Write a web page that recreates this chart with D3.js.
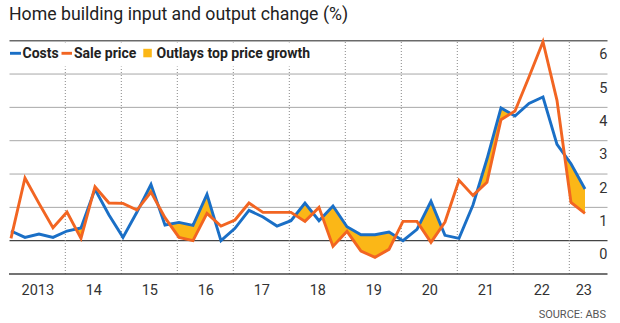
<!DOCTYPE html>
<html>
<head>
<meta charset="utf-8">
<script src="https://cdnjs.cloudflare.com/ajax/libs/d3/7.8.5/d3.min.js"></script>
<style>
  body { margin: 0; background: #fff; }
  svg text { font-family: Roboto, "Open Sans", sans-serif; }
</style>
</head>
<body>
<svg id="chart"></svg>
<script>
// quarterly % change, Q1 2013 .. Q2 2023
var costs = [0.29, 0.10, 0.20, 0.10, 0.29, 0.38, 1.54, 0.77, 0.10, 0.86,
             1.69, 0.47, 0.55, 0.46, 1.39, 0.00, 0.37, 0.91, 0.71, 0.44,
             0.60, 1.13, 0.60, 1.04, 0.42, 0.18, 0.18, 0.26, 0.00, 0.34,
             1.18, 0.16, 0.07, 1.07, 2.45, 3.98, 3.74, 4.12, 4.31, 2.89,
             2.31, 1.55];
var salePrice = [0.07, 1.88, 1.12, 0.39, 0.86, 0.07, 1.62, 1.13, 1.12, 0.92,
                 1.46, 0.69, 0.10, 0.00, 0.82, 0.44, 0.62, 1.13, 0.85, 0.85,
                 0.85, 0.58, 1.00, -0.17, 0.28, -0.31, -0.50, -0.26, 0.58, 0.58,
                 -0.05, 0.56, 1.81, 1.36, 1.75, 3.63, 3.89, 4.91, 5.97, 4.21,
                 1.15, 0.82];
var startYear = 2013;
var yearLabels = ["2013", "14", "15", "16", "17", "18", "19", "20", "21", "22", "23"];
var yTicks = [0, 1, 2, 3, 4, 5, 6];
var legendItems = ["Costs", "Sale price", "Outlays top price growth"];

var width = 620, height = 323;
var blue = "#1a6fc6", orange = "#f26522", yellow = "#fbb717";

var svg = d3.select("#chart")
        .attr("width", width)
        .attr("height", height);

var x = d3.scaleLinear()
        .domain([2013, 2024])
        .range([9.3, 9.3 + 56 * 11]);
var y = d3.scaleLinear()
        .domain([0, 6])
        .range([240.7, 40.7]);
var left = 9.5, right = 607.5, axisY = 274;

var rows = costs.map(function(c, i){
    return {t: startYear + 0.03 + i / 4, c: c, s: salePrice[i]};
});

// title
svg.append("text")
   .attr("x", 9)
   .attr("y", 20)
   .attr("font-size", 17.7)
   .attr("fill", "#222")
   .text("Home building input and output change (%)");

// horizontal grid
svg.selectAll(".grid")
   .data(yTicks)
   .join("line")
   .attr("class", "grid")
   .attr("x1", left)
   .attr("x2", right)
   .attr("y1", d => y(d))
   .attr("y2", d => y(d))
   .attr("stroke", d => d == 0 ? "#444" : (d == 6 ? "#6a6a6a" : "#a8a8a8"))
   .attr("stroke-width", d => d == 6 ? 1.6 : (d == 0 ? 1.3 : 1));

// year separators
var years = d3.range(2014, 2024);
svg.selectAll(".sep")
   .data(years)
   .join("line")
   .attr("class", "sep")
   .attr("x1", d => x(d))
   .attr("x2", d => x(d))
   .attr("y1", 42)
   .attr("y2", axisY)
   .attr("stroke", "#888")
   .attr("stroke-width", 1)
   .attr("stroke-dasharray", "1,2");

// x axis
var xAxis = d3.axisBottom(x)
        .tickValues(yearLabels.map((d, i) => i == 10 ? 2023.25 : startYear + i + 0.5))
        .tickFormat((d, i) => yearLabels[i])
        .tickSize(0)
        .tickPadding(6);
var gx = svg.append("g")
        .attr("transform", "translate(0," + axisY + ")")
        .call(xAxis);
gx.select(".domain").remove();
gx.selectAll("text")
  .attr("font-size", 14.5)
  .attr("fill", "#333")
  .attr("dy", "1.05em");
svg.append("line")
   .attr("x1", left - 0.5).attr("x2", right)
   .attr("y1", axisY).attr("y2", axisY)
   .attr("stroke", "#444").attr("stroke-width", 1.3);

// y labels hang under gridlines
svg.selectAll(".ylab")
   .data(yTicks)
   .join("text")
   .attr("class", "ylab")
   .attr("x", 607.5)
   .attr("y", d => y(d) + 18.6)
   .attr("text-anchor", "end")
   .attr("font-size", 14.5)
   .attr("fill", "#333")
   .text(d => d);

// fill where costs > sale price
svg.append("clipPath")
   .attr("id", "belowCosts")
   .append("path")
   .attr("d", d3.area()
        .x(d => x(d.t))
        .y0(height)
        .y1(d => y(d.c))(rows));
svg.append("path")
   .attr("clip-path", "url(#belowCosts)")
   .attr("fill", yellow)
   .attr("d", d3.area()
        .x(d => x(d.t))
        .y0(d => y(d.s))
        .y1(0)(rows));

var line = d3.line().x(d => x(d.t));
svg.append("path")
   .attr("fill", "none")
   .attr("stroke", blue)
   .attr("stroke-width", 2.9)
   .attr("d", line.y(d => y(d.c))(rows));
svg.append("path")
   .attr("fill", "none")
   .attr("stroke", orange)
   .attr("stroke-width", 2.9)
   .attr("d", line.y(d => y(d.s))(rows));

// legend
var lg = svg.append("g");
lg.append("rect")
  .attr("x", 9).attr("y", 42.5)
  .attr("width", 310).attr("height", 24)
  .attr("fill", "#fff");
lg.append("line").attr("x1", 10).attr("x2", 21).attr("y1", 53.3).attr("y2", 53.3)
  .attr("stroke", blue).attr("stroke-width", 2.9);
lg.append("text").attr("x", 22.5).attr("y", 57.5).text(legendItems[0]);
lg.append("line").attr("x1", 61.5).attr("x2", 72).attr("y1", 53.3).attr("y2", 53.3)
  .attr("stroke", orange).attr("stroke-width", 2.9);
lg.append("text").attr("x", 74).attr("y", 57.5).text(legendItems[1]);
lg.append("rect").attr("x", 143.3).attr("y", 48.8).attr("width", 8.5).attr("height", 8.5)
  .attr("fill", yellow);
lg.append("text").attr("x", 156.5).attr("y", 57.5).text(legendItems[2]);
lg.selectAll("text")
  .attr("font-family", "'Liberation Sans Narrow', sans-serif")
  .attr("font-weight", "bold")
  .attr("font-size", 14)
  .attr("fill", "#222");

// source
svg.append("text")
   .attr("x", 606)
   .attr("y", 317.7)
   .attr("text-anchor", "end")
   .attr("font-size", 11)
   .attr("fill", "#555")
   .text("SOURCE: ABS");
</script>
</body>
</html>
